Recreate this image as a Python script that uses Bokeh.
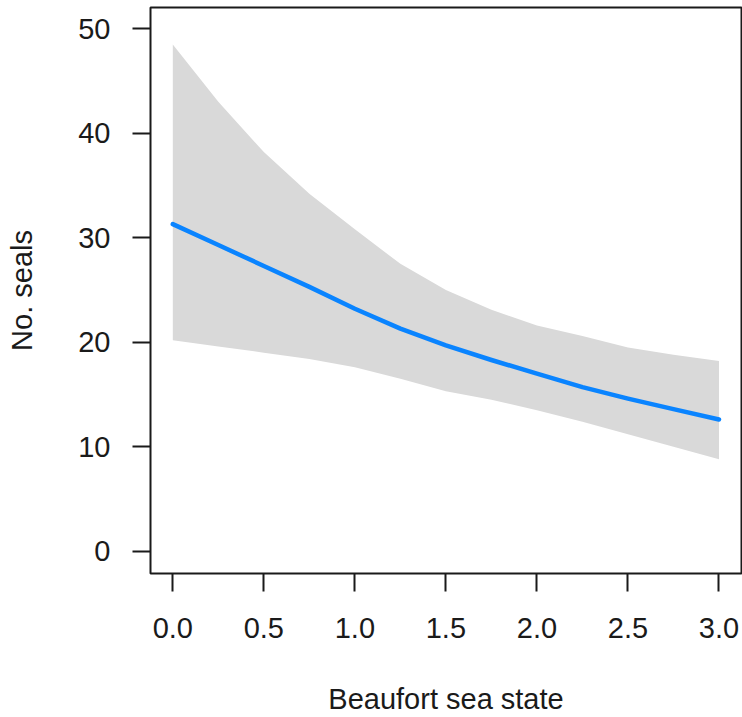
from bokeh.plotting import figure
from bokeh.models import FixedTicker, Range1d
from bokeh.embed import file_html
from bokeh.resources import INLINE

# ---- data ----
sea_state = [0.0, 0.25, 0.5, 0.75, 1.0, 1.25, 1.5, 1.75, 2.0, 2.25, 2.5, 2.75, 3.0]
fit_seals = [31.3, 29.3, 27.3, 25.3, 23.2, 21.3, 19.7, 18.3, 17.0, 15.7, 14.6, 13.6, 12.6]
upper_ci = [48.5, 43.0, 38.2, 34.2, 30.8, 27.5, 25.0, 23.1, 21.6, 20.6, 19.5, 18.8, 18.2]
lower_ci = [20.2, 19.6, 19.0, 18.4, 17.6, 16.5, 15.3, 14.5, 13.5, 12.4, 11.2, 10.0, 8.8]

x_ticks = [0.0, 0.5, 1.0, 1.5, 2.0, 2.5, 3.0]
x_tick_labels = ["0.0", "0.5", "1.0", "1.5", "2.0", "2.5", "3.0"]
y_ticks = [0, 10, 20, 30, 40, 50]
y_tick_labels = ["0", "10", "20", "30", "40", "50"]

x_title = "Beaufort sea state"
y_title = "No. seals"

FONT = "Liberation Sans"
FS = "29px"
INK = "#1a1a1a"

p = figure(
    width=742, height=717,
    output_backend="svg", toolbar_location=None,
    x_range=Range1d(-0.1225, 3.1236), y_range=Range1d(-2.13, 52.03),
    min_border_left=150, min_border_right=1, min_border_top=7, min_border_bottom=143,
)
p.background_fill_color = "white"
p.border_fill_color = "white"
p.outline_line_color = INK
p.outline_line_width = 2
p.xgrid.visible = False
p.ygrid.visible = False

p.varea(x=sea_state, y1=lower_ci, y2=upper_ci, fill_color="#D9D9D9", fill_alpha=1.0)
p.line(x=sea_state, y=fit_seals, line_color="#0A84FF", line_width=4.5, line_cap="round", line_join="round")

for ax, ticks, labels in ((p.xaxis[0], x_ticks, x_tick_labels), (p.yaxis[0], y_ticks, y_tick_labels)):
    ax.ticker = FixedTicker(ticks=ticks, minor_ticks=[])
    ax.major_label_overrides = {t: l for t, l in zip(ticks, labels)}
    ax.axis_line_color = None
    ax.major_tick_line_color = INK
    ax.major_tick_line_width = 2
    ax.major_tick_out = 18
    ax.major_tick_in = 0
    ax.minor_tick_line_color = None
    ax.major_label_text_font = FONT
    ax.major_label_text_font_size = FS
    ax.major_label_text_color = INK
    ax.axis_label_text_font = FONT
    ax.axis_label_text_font_size = FS
    ax.axis_label_text_font_style = "normal"
    ax.axis_label_text_color = INK

p.xaxis[0].axis_label = x_title
p.yaxis[0].axis_label = y_title
p.xaxis[0].major_label_standoff = 26
p.xaxis[0].axis_label_standoff = 42
p.yaxis[0].major_label_standoff = 22
p.yaxis[0].axis_label_standoff = 37
p.yaxis[0].major_label_orientation = "horizontal"

open("out.html", "w").write(file_html(p, INLINE))
